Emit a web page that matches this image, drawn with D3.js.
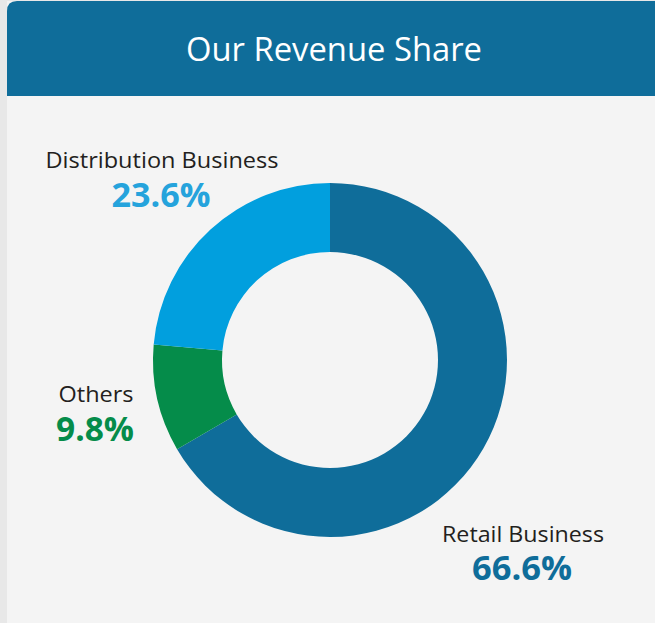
<!DOCTYPE html>
<html><head><meta charset="utf-8">
<script src="https://cdn.jsdelivr.net/npm/d3@7/dist/d3.min.js"></script>
<style>
html,body{margin:0;padding:0;background:#e8e8e8;}
svg{display:block;}
</style></head>
<body>
<svg id="chart" width="655" height="623"></svg>
<script>
const title = "Our Revenue Share";
const categories = ["Retail Business", "Others", "Distribution Business"];
const values = [66.6, 9.8, 23.6];
const valueLabels = ["66.6%", "9.8%", "23.6%"];
const colors = ["#0f6d9a", "#058c4a", "#019fde"];
const labelColors = ["#0f6d9a", "#058c4a", "#25a3dc"];

const svg = d3.select("#chart");
const W = 655, H = 623;
const font = "'Open Sans', 'Noto Sans', sans-serif";

// card body
svg.append("rect").attr("x", 7).attr("y", 1).attr("width", W - 7).attr("height", H - 1)
  .attr("fill", "#f4f4f4");
// header with rounded top-left corner
const hx = 7, hy = 1, hw = W - 7, hh = 95, r = 10;
svg.append("path")
  .attr("d", `M${hx},${hy + hh} V${hy + r} Q${hx},${hy} ${hx + r},${hy} H${hx + hw} V${hy + hh} Z`)
  .attr("fill", "#0f6d9a");
svg.append("text").attr("x", 334).attr("y", 61).attr("text-anchor", "middle")
  .attr("fill", "#ffffff").attr("font-family", font).attr("font-size", 32.5)
  .attr("textLength", 296).attr("lengthAdjust", "spacingAndGlyphs")
  .text(title);

const cx = 330, cy = 360, R = 177, ri = 108;
const data = categories.map((c, i) => ({ cat: c, value: values[i], label: valueLabels[i], color: colors[i], lc: labelColors[i] }));
const pie = d3.pie().value(d => d.value).sort(null);
const arc = d3.arc().innerRadius(ri).outerRadius(R);
const g = svg.append("g").attr("transform", `translate(${cx},${cy})`);
g.selectAll("path").data(pie(data)).join("path")
  .attr("d", arc).attr("fill", d => d.data.color);

// label positions (name baseline, value baseline, center x, widths)
const labelPos = [
  { x: 523, y1: 542, y2: 580, w1: 162, w2: 100 },
  { x: 96, y1: 402, y2: 441, w1: 75, w2: 78 },
  { x: 162, y1: 168, y2: 207, w1: 233, w2: 99 }
];
data.forEach((d, i) => {
  const p = labelPos[i];
  svg.append("text").attr("x", p.x).attr("y", p.y1).attr("text-anchor", "middle")
    .attr("fill", "#231f20").attr("font-family", font).attr("font-size", 22.5)
    .attr("textLength", p.w1).attr("lengthAdjust", "spacingAndGlyphs")
    .text(d.cat);
  svg.append("text").attr("x", p.x - 1).attr("y", p.y2).attr("text-anchor", "middle")
    .attr("fill", d.lc).attr("font-family", font).attr("font-size", 34.5).attr("font-weight", 700)
    .attr("textLength", p.w2).attr("lengthAdjust", "spacingAndGlyphs")
    .text(d.label);
});
</script>
</body></html>
